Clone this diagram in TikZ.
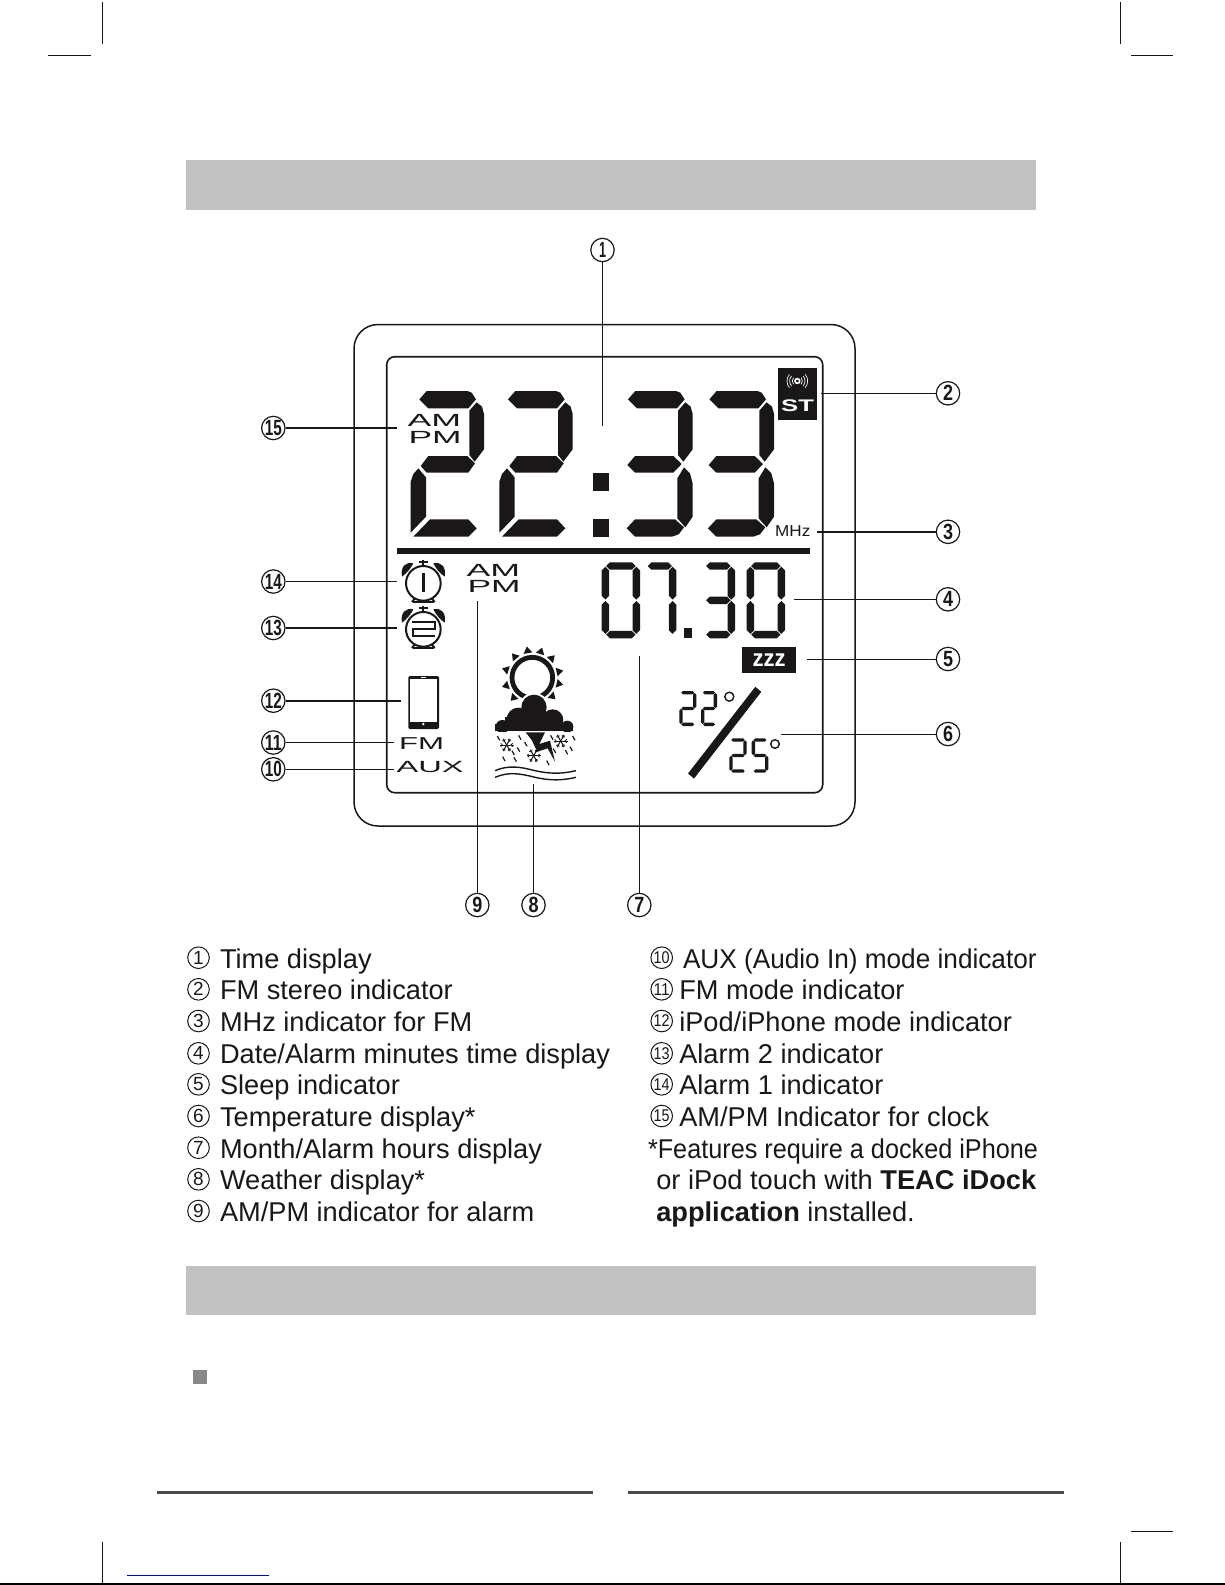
\documentclass[tikz,border=0pt]{standalone}
\usepackage{fontspec}
\setmainfont{Liberation Sans}
\definecolor{ink}{HTML}{1A1718}
\definecolor{band}{HTML}{C2C2C2}
\definecolor{rulegrey}{HTML}{4A4A4A}
\definecolor{bullet}{HTML}{888888}
\definecolor{linkblue}{HTML}{0000CC}
\newcommand\fitw[2]{\resizebox{#1pt}{\height}{#2}}
\newcommand\fs[1]{\fontsize{#1}{#1}\selectfont}
% big-digit segments, in zoomed coordinates
\newcommand\bigtop{\fill[lcdfill] (118,178)--(140,153)--(262,153)--(275,158)--(288,178)--(265,205)--(145,205)--cycle;}
\newcommand\bigur{\fill[lcdfill] (268,212)--(290,187)--(306,200)--(312,222)--(312,328)--(284,365)--(268,345)--cycle;}
\newcommand\bigmidtwo{\fill[lcdfill] (122,378)--(145,348)--(262,348)--(285,370)--(265,398)--(140,398)--cycle;}
\newcommand\bigmidthree{\fill[lcdfill] (116,375)--(139,348)--(254,348)--(279,372)--(254,398)--(139,398)--cycle;}
\newcommand\bigll{\fill[lcdfill] (92,425)--(100,402)--(115,385)--(138,412)--(138,530)--(92,578)--cycle;}
\newcommand\biglr{\fill[lcdfill] (266,415)--(286,382)--(304,400)--(312,430)--(312,530)--(290,562)--(266,535)--cycle;}
\newcommand\bigbottwo{\fill[lcdfill] (100,590)--(150,538)--(265,538)--(290,565)--(265,590)--cycle;}
\newcommand\bigbotthree{\fill[lcdfill] (114,565)--(139,538)--(259,538)--(286,562)--(270,583)--(250,590)--(139,590)--cycle;}
\newcommand\bigtwo[1]{\begin{scope}[shift={({380+#1/3},340)},scale=0.33333]\bigtop\bigur\bigmidtwo\bigll\bigbottwo\end{scope}}
\newcommand\bigthree[1]{\begin{scope}[shift={({380+#1/3},340)},scale=0.33333]\bigtop\bigur\bigmidthree\biglr\bigbotthree\end{scope}}
% generic seven-segment digit: x,y,w,h,thickness,segments
\newcommand\hsegm[1]{\fill[lcdfill] ({\sG+\sT/2},#1)--({\sG+\sT},{#1-\sT/2})--({\sW-\sG-\sT},{#1-\sT/2})--({\sW-\sG-\sT/2},#1)--({\sW-\sG-\sT},{#1+\sT/2})--({\sG+\sT},{#1+\sT/2})--cycle;}
\newcommand\vsegm[3]{\fill[lcdfill] (#1,{#2+\sG})--({#1+\sT/2},{#2+\sG+\sT/2})--({#1+\sT/2},{#3-\sG-\sT/2})--(#1,{#3-\sG})--({#1-\sT/2},{#3-\sG-\sT/2})--({#1-\sT/2},{#2+\sG+\sT/2})--cycle;}
\newcommand\sevseg[6]{\begin{scope}[shift={(#1,#2)}]
 \pgfmathsetmacro\sW{#3}\pgfmathsetmacro\sH{#4}\pgfmathsetmacro\sT{#5}\pgfmathsetmacro\sG{#5*0.1}
 \pgfmathsetmacro\sMy{\sH/2}\pgfmathsetmacro\sBy{\sH-\sT/2}\pgfmathsetmacro\sTy{\sT/2}
 \pgfmathsetmacro\sRx{\sW-\sT/2}\pgfmathsetmacro\sLx{\sT/2}
 \foreach \sgm in {#6}{\csname sg\sgm\endcsname}
\end{scope}}
\expandafter\newcommand\csname sga\endcsname{\hsegm{\sTy}}
\expandafter\newcommand\csname sgg\endcsname{\hsegm{\sMy}}
\expandafter\newcommand\csname sgd\endcsname{\hsegm{\sBy}}
\expandafter\newcommand\csname sgb\endcsname{\vsegm{\sRx}{\sTy}{\sMy}}
\expandafter\newcommand\csname sgc\endcsname{\vsegm{\sRx}{\sMy}{\sBy}}
\expandafter\newcommand\csname sgf\endcsname{\vsegm{\sLx}{\sTy}{\sMy}}
\expandafter\newcommand\csname sge\endcsname{\vsegm{\sLx}{\sMy}{\sBy}}
% alarm clock, zoomed coordinates
\newcommand\alarmclock[1]{\begin{scope}[shift={(130,#1)}]
 \draw[ink,line width=1pt] (0,0) circle (52);
 \foreach \sx in {1,-1}{\begin{scope}[xscale=\sx]
  \fill[ink] (-64,-20) .. controls (-70,-50) and (-52,-66) .. (-30,-60) .. controls (-38,-44) and (-50,-30) .. cycle;
  \draw[ink,line width=1pt] (-26,46) -- (-34,56);
 \end{scope}}
 \draw[ink,line width=1pt] (-13,-64) -- (13,-64) (0,-71) -- (0,-52);
 \draw[ink,line width=0.8pt] (-32,56) -- (32,56);
\end{scope}}
\newcommand\snowflake[2]{\begin{scope}[shift={(#1,#2)}]
 \foreach \an in {0,60,120}{\draw[ink,line width=0.5pt] (\an:21)--(\an+180:21);
 \draw[ink,line width=0.4pt] (\an:13)--++(\an+45:7) (\an:13)--++(\an-45:7) (\an+180:13)--++(\an+225:7) (\an+180:13)--++(\an+135:7);}
\end{scope}}
\tikzset{
 lcdfill/.style={fill=ink},
 txt/.style={inner sep=0pt,outer sep=0pt,anchor=base west,text=ink},
 lcdtxt/.style={txt,font=\fs{8.8}},
 callout/.style={circle,draw=ink,line width=0.6pt,inner sep=0pt,minimum size=11.7pt,text=ink,font=\fs{11}\bfseries},
 legnum/.style={circle,draw=ink,line width=0.5pt,inner sep=0pt,minimum size=10.8pt,text=ink,font=\fs{9.5}},
 legtxt/.style={txt,font=\fs{13.6}},
 lead/.style={draw=ink,line width=0.5pt},
 leadthick/.style={draw=ink,line width=0.8pt},
 crop/.style={draw=ink,line width=0.5pt},
}
\begin{document}
\begin{tikzpicture}[x=0.5pt,y=-0.5pt]
\useasboundingbox (0,0) rectangle (1225,1585);
% page furniture
\fill[band] (186,160) rectangle (1036,210);
\fill[band] (186,1266) rectangle (1036,1315);
\fill[bullet] (193,1370) rectangle (207,1384);
\fill[rulegrey] (157,1490.5) rectangle (593,1493.5);
\fill[rulegrey] (628,1490.5) rectangle (1064,1493.5);
\draw[crop] (102,2)--(102,44) (1120,2)--(1120,44) (48,55)--(91,55) (1131,55)--(1173,55) (1131,1531)--(1173,1531) (102,1542)--(102,1584) (1120,1542)--(1120,1584);
\draw[black,line width=0.6pt] (0,1584)--(1225,1584);
\draw[linkblue,line width=0.5pt] (127,1575)--(269,1575);
% housing and LCD frame
\draw[ink,line width=0.75pt,rounded corners=12pt] (354,324.5) rectangle (855,826);
\draw[ink,line width=0.8pt,rounded corners=4pt] (386.7,356.7) rectangle (822.7,792.7);
\fill[ink] (397,548.3) rectangle (810,553.7);
% big time
\bigtwo{0}\bigtwo{266}\bigthree{626}\bigthree{870}
\fill[ink] (593.3,472.7) rectangle (609,490.7);
\fill[ink] (593.3,519.3) rectangle (609,536.7);
% ST box
\fill[ink] (778,368.3) rectangle (816.7,420);
\begin{scope}[shift={(380,340)},scale=0.33333]
 \draw[white,line width=0.8pt] (1252,123) circle (7);
 \foreach \rr in {15,23,31}{\draw[white,line width=0.35pt] (1252,123) ++(-40:\rr) arc (-40:40:\rr);\draw[white,line width=0.35pt] (1252,123) ++(140:\rr) arc (140:220:\rr);}
\end{scope}
\node[txt,text=white,font=\fs{8.4}\bfseries] (st) at (781.2,411.7) {\fitw{16.4}{ST}};
\node[lcdtxt,font=\fs{7.9}] (mhz) at (775.2,536) {\fitw{17.6}{MHz}};
\node[lcdtxt] (am1) at (407.5,426.7) {\fitw{26.8}{AM}};
\node[lcdtxt] (pm1) at (408.5,443.3) {\fitw{26.5}{PM}};
\node[lcdtxt] (am2) at (466.5,576) {\fitw{26.8}{AM}};
\node[lcdtxt] (pm2) at (467.5,592.7) {\fitw{26.5}{PM}};
\node[lcdtxt,font=\fs{8.6}] (fm) at (399,749) {\fitw{22.5}{FM}};
\node[lcdtxt,font=\fs{8.1}] (aux) at (396.7,772.3) {\fitw{33.5}{AUX}};
% 07.30
\sevseg{601.7}{562.3}{38.3}{76}{7.4}{a,b,c,d,e,f}
\sevseg{643.3}{562.3}{33}{76}{7.4}{a,b,c}
\fill[ink] (684,628.3) rectangle (691.7,638.3);
\sevseg{701.7}{562.3}{33.3}{76}{7.4}{a,b,g,c,d}
\sevseg{746.7}{562.3}{38.3}{76}{7.4}{a,b,c,d,e,f}
% ZZZ
\fill[ink] (742,647) rectangle (796,672.7);
\node[txt,text=white,font=\fs{12}\bfseries] (zzz) at (752.5,666.5) {\fitw{16.5}{zzz}};
% temperature
\sevseg{679.3}{691}{17}{35}{3.3}{a,b,g,e,d}
\sevseg{701}{691}{16}{35}{3.3}{a,b,g,e,d}
\draw[ink,line width=0.7pt] (729.3,696.7) circle (4.5);
\fill[ink] (761.3,691.8)--(755.3,686.8)--(688,773.5)--(694,778.5)--cycle;
\sevseg{729.3}{738.3}{17.4}{34.4}{3.3}{a,b,g,e,d}
\sevseg{751.7}{738.3}{16.6}{34.4}{3.3}{a,f,g,c,d}
\draw[ink,line width=0.7pt] (775,744) circle (4.3);
% icons
\begin{scope}[shift={(380,550)},scale=0.33333]
 \alarmclock{100}
 \fill[ink] (126,68) rectangle (134,125);
 \alarmclock{238}
 \draw[ink,line width=1.1pt] (97,217)--(165,217)--(165,237)--(100,237)--(100,258)--(165,258);
 % phone
 \fill[ink,rounded corners=0.7pt] (85,378) rectangle (177,537);
 \fill[white] (90,388) rectangle (172,515);
 \fill[white] (122,382) rectangle (138,385);
 \fill[white] (130,522) circle (4);
 % sun
 \draw[ink,line width=2.4pt] (457,383) circle (61);
 \begin{scope}[shift={(457,383)}]
  \foreach \an in {-100,-72,-130,-45,-163,-13,163,13,133,43}{\fill[ink] (\an-10:76)--(\an:95)--(\an+10:76)--cycle;}
 \end{scope}
 % cloud
 \begin{scope}
  \clip (330,420) rectangle (600,543);
  \foreach \cx/\cy/\cr in {462/472/38,415/508/35,518/510/32,367/530/20,562/530/18}{\fill[white] (\cx,\cy) circle ({\cr+6});}
  \foreach \cx/\cy/\cr in {462/472/38,415/508/35,518/510/32,367/530/20,562/530/18}{\fill[ink] (\cx,\cy) circle (\cr);}
  \fill[ink] (345,522) rectangle (580,543);
  \fill[ink] (375,500) rectangle (550,543);
  \fill[ink] (425,470) rectangle (498,510);
 \end{scope}
 % lightning
 \fill[ink] (437,547)--(495,547)--(478,582)--(510,572)--(525,635)--(503,595)--(472,605)--(455,570)--cycle;
 \snowflake{380}{585}\snowflake{461}{617}\snowflake{542}{573}
 \foreach \ax/\ay in {352/558,368/620,396/602,402/622,416/556,434/576,500/632,512/556,520/596,556/600,570/590,578/558,412/592}{\draw[ink,line width=0.6pt] (\ax,\ay)--++(7,13);}
 % waves
 \draw[ink,line width=0.7pt] (345,662) .. controls (385,645) and (420,650) .. (465,662) .. controls (510,672) and (545,672) .. (588,662);
 \draw[ink,line width=0.7pt] (345,682) .. controls (385,665) and (420,670) .. (465,682) .. controls (510,692) and (545,692) .. (588,682);
\end{scope}
% callouts
\node[callout] (c1) at (602.5,250) {\fitw{3.5}{1}};
\node[callout] (c2) at (948,393.3) {\fitw{5}{2}};
\node[callout] (c3) at (948,531.8) {\fitw{5}{3}};
\node[callout] (c4) at (948,599.3) {\fitw{5}{4}};
\node[callout] (c5) at (948,659) {\fitw{5}{5}};
\node[callout] (c6) at (948,734) {\fitw{5}{6}};
\node[callout] (c7) at (639.3,905) {\fitw{5}{7}};
\node[callout] (c8) at (533.5,905) {\fitw{5}{8}};
\node[callout] (c9) at (477.3,905) {\fitw{5}{9}};
\node[callout] (c10) at (273.3,769.3) {\fitw{8.5}{10}};
\node[callout] (c11) at (273.3,742.5) {\fitw{8.5}{11}};
\node[callout] (c12) at (273.3,700.7) {\fitw{8.5}{12}};
\node[callout] (c13) at (273.3,628) {\fitw{8.5}{13}};
\node[callout] (c14) at (273.3,581.5) {\fitw{8.5}{14}};
\node[callout] (c15) at (273.3,428) {\fitw{8.5}{15}};
\coordinate (e1) at (602.5,425.7);
\coordinate (e2) at (821,393.3);
\coordinate (e3) at (816.7,531.8);
\coordinate (e4) at (794,599.3);
\coordinate (e5) at (806.7,659);
\coordinate (e6) at (781,734);
\coordinate (e7) at (639.3,656);
\coordinate (e8) at (533.5,784.3);
\coordinate (e9) at (477.3,601);
\coordinate (e10) at (394,769.3);
\coordinate (e11) at (394,742.5);
\coordinate (e12) at (400.7,700.7);
\coordinate (e13) at (396.7,628);
\coordinate (e14) at (396.7,581.5);
\coordinate (e15) at (396.7,428);
\foreach \n in {1,2,4,5,6,7,8,9,10,14}{\draw[lead] (c\n)--(e\n);}
\foreach \n in {3,11,12,13,15}{\draw[leadthick] (c\n)--(e\n);}
% legend left
\foreach \i/\ty/\tx in {1/968.2/Time display,2/999.8/FM stereo indicator,3/1031.5/MHz indicator for FM,4/1063.8/Date\slash Alarm minutes time display,5/1094.8/Sleep indicator,6/1126.5/Temperature display*,7/1158.2/Month\slash Alarm hours display,8/1189.8/Weather display*,9/1221.5/AM\slash PM indicator for alarm}{
 \node[legnum] (ln\i) at (198.5,\ty-10.5) {\i};
 \node[legtxt] (lt\i) at (220,\ty) {\tx};
}
% legend right
\node[legnum,font=\fs{8.5}] (ln10) at (661.7,957.7) {\fitw{8}{10}};
\node[legnum,font=\fs{8.5}] (ln11) at (661.7,989.3) {\fitw{8}{11}};
\node[legnum,font=\fs{8.5}] (ln12) at (661.7,1021) {\fitw{8}{12}};
\node[legnum,font=\fs{8.5}] (ln13) at (661.7,1053.3) {\fitw{8}{13}};
\node[legnum,font=\fs{8.5}] (ln14) at (661.7,1084.3) {\fitw{8}{14}};
\node[legnum,font=\fs{8.5}] (ln15) at (661.7,1116) {\fitw{8}{15}};
\node[legtxt] (lt10) at (683,968.2) {\fitw{176.8}{AUX (Audio In) mode indicator}};
\node[legtxt] (lt11) at (679.3,999.8) {FM mode indicator};
\node[legtxt] (lt12) at (679.3,1031.5) {iPod/iPhone mode indicator};
\node[legtxt] (lt13) at (679.3,1063.8) {Alarm 2 indicator};
\node[legtxt] (lt14) at (679.3,1094.8) {Alarm 1 indicator};
\node[legtxt] (lt15) at (679.3,1126.5) {AM/PM Indicator for clock};
\node[legtxt] (nt1) at (648,1158.2) {\fitw{195}{*Features require a docked iPhone}};
\node[legtxt] (nt2) at (656.3,1189.8) {\fitw{190}{or iPod touch with \textbf{TEAC iDock}}};
\node[legtxt] (nt3) at (656.3,1221.5) {\textbf{application} installed.};
\end{tikzpicture}
\end{document}
